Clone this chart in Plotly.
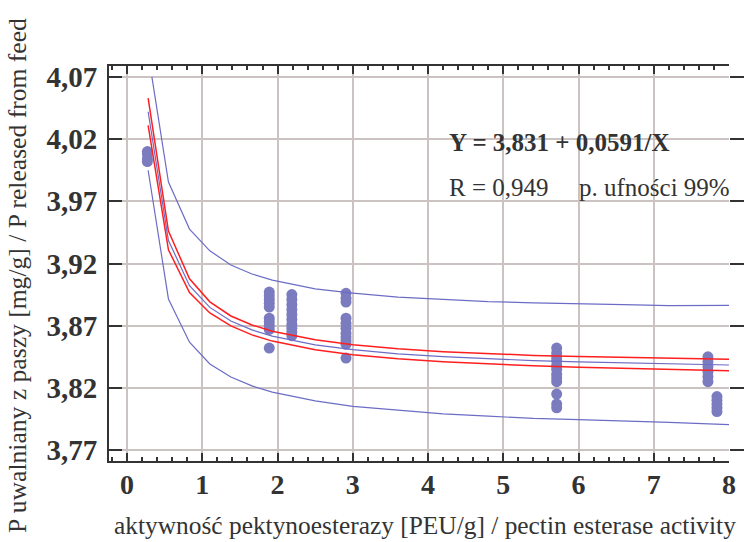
import plotly.graph_objects as go

# ---------------- data ----------------
x_ticks = [0, 1, 2, 3, 4, 5, 6, 7, 8]
y_ticks = [3.77, 3.82, 3.87, 3.92, 3.97, 4.02, 4.07]
y_ticktext = ["3,77", "3,82", "3,87", "3,92", "3,97", "4,02", "4,07"]

# observed points (grouped by activity level)
obs_x1 = [0.27] * 4
obs_y1 = [4.010, 4.008, 4.004, 4.002]
obs_x2 = [1.89] * 10
obs_y2 = [3.897, 3.894, 3.891, 3.888, 3.885, 3.876, 3.873, 3.870, 3.867, 3.852]
obs_x3 = [2.19] * 10
obs_y3 = [3.895, 3.891, 3.887, 3.883, 3.879, 3.875, 3.871, 3.868, 3.865, 3.862]
obs_x4 = [2.91] * 11
obs_y4 = [3.896, 3.892, 3.889, 3.876, 3.872, 3.868, 3.864, 3.861, 3.858, 3.855, 3.844]
obs_x5 = [5.71] * 12
obs_y5 = [3.852, 3.848, 3.845, 3.842, 3.838, 3.835, 3.831, 3.828, 3.825, 3.815, 3.807, 3.804]
obs_x6 = [7.72] * 6
obs_y6 = [3.845, 3.841, 3.837, 3.833, 3.829, 3.825]
obs_x7 = [7.84] * 5
obs_y7 = [3.813, 3.810, 3.807, 3.804, 3.801]

# fitted curve and bands
curve_x = [0.28, 0.55, 0.83, 1.10, 1.38, 1.66, 1.93, 2.50, 3.00, 3.60, 4.20, 4.80, 5.40, 6.00, 6.60, 7.20, 8.00]
fit_y = [4.042, 3.9385, 3.9022, 3.8847, 3.8738, 3.8666, 3.8616, 3.8546, 3.8507, 3.8474,
         3.8451, 3.8433, 3.8419, 3.8409, 3.8400, 3.8392, 3.8384]
conf_up = [4.053, 3.946, 3.9077, 3.8892, 3.8778, 3.8706, 3.8656, 3.8586, 3.8547, 3.8514,
           3.8491, 3.8473, 3.8461, 3.8452, 3.8444, 3.8437, 3.8430]
conf_lo = [4.031, 3.931, 3.8967, 3.8802, 3.8698, 3.8626, 3.8576, 3.8506, 3.8467, 3.8434,
           3.8411, 3.8393, 3.8377, 3.8366, 3.8356, 3.8347, 3.8338]
pred_up_x = [0.33, 0.55, 0.83, 1.10, 1.38, 1.66, 1.93, 2.50, 3.00, 3.60, 4.20, 4.80, 5.40, 6.00, 6.60, 7.20, 8.00]
pred_up = [4.07, 3.9855, 3.9477, 3.9302, 3.9188, 3.9116, 3.9066, 3.8996, 3.8962, 3.8929,
           3.8911, 3.8893, 3.8884, 3.8874, 3.8870, 3.8862, 3.8864]
pred_lo = [3.995, 3.8915, 3.8567, 3.8392, 3.8288, 3.8216, 3.8166, 3.8096, 3.8052, 3.8019,
           3.7991, 3.7973, 3.7954, 3.7944, 3.7930, 3.7922, 3.7904]

obs_x = obs_x1 + obs_x2 + obs_x3 + obs_x4 + obs_x5 + obs_x6 + obs_x7
obs_y = obs_y1 + obs_y2 + obs_y3 + obs_y4 + obs_y5 + obs_y6 + obs_y7

# ---------------- styles ----------------
FONT = "Liberation Serif"
DARK = "#333333"
GRID = "#cbc3c2"
PURPLE = "#7b7bbf"
BLUE = "#6c6cc6"
RED = "#ff1f1f"

fig = go.Figure()
fig.add_trace(go.Scatter(x=obs_x, y=obs_y, mode="markers",
                         marker=dict(size=11, color=PURPLE, line=dict(width=0))))
fig.add_trace(go.Scatter(x=pred_up_x, y=pred_up, mode="lines", line=dict(color=BLUE, width=1.2)))
fig.add_trace(go.Scatter(x=curve_x, y=pred_lo, mode="lines", line=dict(color=BLUE, width=1.2)))
fig.add_trace(go.Scatter(x=curve_x, y=fit_y, mode="lines", line=dict(color=BLUE, width=1.2)))
fig.add_trace(go.Scatter(x=curve_x, y=conf_up, mode="lines", line=dict(color=RED, width=1.5)))
fig.add_trace(go.Scatter(x=curve_x, y=conf_lo, mode="lines", line=dict(color=RED, width=1.5)))
# invisible trace to anchor the right-hand tick axis
fig.add_trace(go.Scatter(x=[None], y=[None], yaxis="y2", mode="markers", hoverinfo="skip"))

yr = [3.7612, 4.0788]
fig.update_layout(
    width=744, height=542,
    margin=dict(l=109, r=15, t=66, b=81, autoexpand=False),
    plot_bgcolor="white", paper_bgcolor="white",
    showlegend=False,
    font=dict(family=FONT, color=DARK),
    xaxis=dict(
        range=[-0.24, 8.0], tickmode="array", tickvals=x_ticks, automargin=False,
        ticks="inside", ticklen=8, tickwidth=2, tickcolor=DARK,
        showline=True, linewidth=2, linecolor=DARK, mirror="ticks",
        showgrid=True, gridcolor=GRID, gridwidth=2, zeroline=False,
        tickfont=dict(family=FONT, size=28, color=DARK, weight="bold"),
        ticklabelstandoff=-3,
        minor=dict(dtick=0.2, tick0=0, ticks="inside", ticklen=4, tickwidth=1.5,
                   tickcolor=DARK, showgrid=False),
    ),
    yaxis=dict(
        range=yr, tickmode="array", tickvals=y_ticks, ticktext=y_ticktext, automargin=False,
        ticks="inside", ticklen=13, tickwidth=2, tickcolor=DARK,
        showline=True, linewidth=2, linecolor=DARK, mirror=False,
        showgrid=True, gridcolor=GRID, gridwidth=2, zeroline=False,
        tickfont=dict(family=FONT, size=29, color=DARK, weight="bold"),
        ticklabelstandoff=4,
    ),
    yaxis2=dict(
        range=yr, overlaying="y", side="right", tickmode="array", tickvals=y_ticks,
        automargin=False,
        ticks="outside", ticklen=14, tickwidth=2, tickcolor=DARK,
        showticklabels=False, showgrid=False, showline=False, zeroline=False,
    ),
)

fig.add_annotation(x=4.25, y=4.0169, xref="x", yref="y", xanchor="left", yanchor="middle",
                   text="<b>Y = 3,831 + 0,0591/X</b>", showarrow=False,
                   font=dict(family=FONT, size=25, color=DARK))
fig.add_annotation(x=4.25, y=3.9815, xref="x", yref="y", xanchor="left", yanchor="middle",
                   text="R = 0,949", showarrow=False,
                   font=dict(family=FONT, size=25, color=DARK))
fig.add_annotation(x=5.98, y=3.9815, xref="x", yref="y", xanchor="left", yanchor="middle",
                   text="p. ufności 99%", showarrow=False,
                   font=dict(family=FONT, size=25, color=DARK))
fig.add_annotation(x=0.5097, y=-0.162, xref="paper", yref="paper", xanchor="center", yanchor="middle",
                   text="aktywność pektynoesterazy [PEU/g] / pectin esterase activity", showarrow=False,
                   font=dict(family=FONT, size=25.4, color=DARK))
fig.add_annotation(x=-0.1468, y=0.471, xref="paper", yref="paper", xanchor="center", yanchor="middle",
                   textangle=-90,
                   text="P uwalniany z paszy [mg/g] / P released from feed", showarrow=False,
                   font=dict(family=FONT, size=25.6, color=DARK))

fig.write_html("out.html", config={"displayModeBar": False},
               post_script="document.body.style.margin='0';")
